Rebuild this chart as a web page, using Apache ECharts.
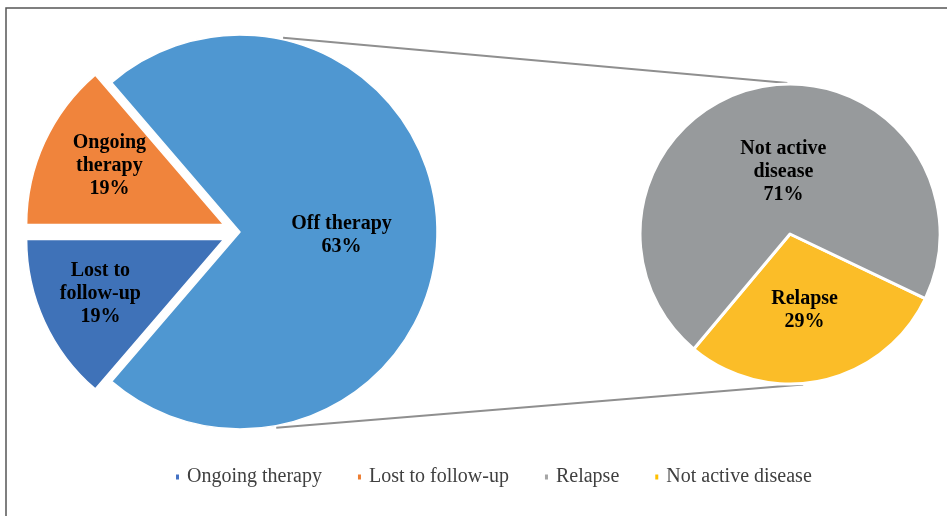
<!DOCTYPE html>
<html><head><meta charset="utf-8">
<script src="https://cdn.jsdelivr.net/npm/echarts@6/dist/echarts.min.js"></script>
<style>html,body{margin:0;padding:0;background:#fff}#c{width:947px;height:516px}</style>
</head><body><div id="c"></div>
<script>
// ---- data ----
const mainCategories = ['Ongoing therapy', 'Off therapy', 'Lost to follow-up'];
const mainLabelNames = ['Ongoing\ntherapy', 'Off therapy', 'Lost to\nfollow-up'];
const mainShares = [13.7, 72.6, 13.7];          // slice sizes as drawn in the picture
const mainPercentLabels = ['19%', '63%', '19%'];  // percentages printed on the slices
const subCategories = ['Relapse', 'Not active disease'];
const subLabelNames = ['Relapse', 'Not active\ndisease'];
const subShares = [29, 71];
const subPercentLabels = ['29%', '71%'];
const legendNames = ['Ongoing therapy', 'Lost to follow-up', 'Relapse', 'Not active disease'];

// ---- styles / layout ----
const mainColors = ['#F0843C', '#4F97D1', '#3F72B8'];
const subColors = ['#FBBD28', '#979A9C'];
const legendColors = ['#4472C4', '#ED7D31', '#A5A5A5', '#FFC000'];
const C1 = [240, 232], R1 = 197;
const C2 = [790, 234], R2 = 150;
const serif = '"Liberation Serif", "Times New Roman", serif';

const labelStyle = {
  show: true, position: 'inside', fontFamily: serif, fontWeight: 'bold',
  fontSize: 20, lineHeight: 23, color: '#000'
};

function pt(c, r, deg) {
  const a = deg * Math.PI / 180;
  return [c[0] + r * Math.cos(a), c[1] - r * Math.sin(a)];
}
const topL = pt(C1, R1 + 2, 77.5), topR = pt(C2, R2 + 1, 91);
const botL = pt(C1, R1 + 2, -79.5), botR = pt(C2, R2 + 1, -85);

const chart = echarts.init(document.getElementById('c'), null, {renderer: 'canvas'});
chart.setOption({
  animation: false,
  backgroundColor: '#fff',
  legend: {
    bottom: 24, left: 169,
    icon: 'rect', itemWidth: 5, itemHeight: 7, itemGap: 34,
    textStyle: {fontFamily: serif, fontSize: 20, color: '#404040', padding: [0, 0, 0, 2]},
    selectedMode: false,
    data: legendNames.map((n, i) => ({name: n, itemStyle: {color: legendColors[i]}}))
  },
  graphic: [
    {type: 'rect', shape: {x: 6, y: 8, width: 1000, height: 600},
      style: {fill: 'none', stroke: '#555', lineWidth: 1.5}, silent: true},
    {type: 'line', shape: {x1: topL[0], y1: topL[1], x2: topR[0], y2: topR[1]},
      style: {stroke: '#8f8f8f', lineWidth: 2}, silent: true, z: -1},
    {type: 'line', shape: {x1: botL[0], y1: botL[1], x2: botR[0], y2: botR[1]},
      style: {stroke: '#8f8f8f', lineWidth: 2}, silent: true, z: -1}
  ],
  series: [
    {
      type: 'pie', center: C1, radius: R1, startAngle: 180, clockwise: true,
      selectedMode: 'multiple', selectedOffset: 18, avoidLabelOverlap: false,
      emphasis: {disabled: true},
      label: Object.assign({}, labelStyle, {
        formatter: p => mainLabelNames[p.dataIndex] + '\n' + mainPercentLabels[p.dataIndex]
      }),
      labelLine: {show: false},
      labelLayout: function (p) {
        if (p.dataIndex === 0) return {dx: -22, dy: -16};
        if (p.dataIndex === 2) return {dx: -31, dy: 12};
        return {dy: 3};
      },
      data: mainCategories.map((n, i) => ({
        name: n, value: mainShares[i], selected: i !== 1,
        itemStyle: {color: mainColors[i], borderColor: '#fff', borderWidth: 1.5},
        select: {itemStyle: {color: mainColors[i], borderColor: '#fff', borderWidth: 1.5}}
      }))
    },
    {
      type: 'pie', center: C2, radius: R2, startAngle: -25.5, clockwise: true,
      avoidLabelOverlap: false, emphasis: {disabled: true},
      label: Object.assign({}, labelStyle, {
        formatter: p => subLabelNames[p.dataIndex] + '\n' + subPercentLabels[p.dataIndex]
      }),
      labelLine: {show: false},
      labelLayout: function (p) {
        if (p.dataIndex === 1) return {dx: 10, dy: 14};
        return {dx: -2};
      },
      data: subCategories.map((n, i) => ({
        name: n, value: subShares[i],
        itemStyle: {color: subColors[i], borderColor: '#fff', borderWidth: 3}
      }))
    }
  ]
});
</script>
</body></html>
